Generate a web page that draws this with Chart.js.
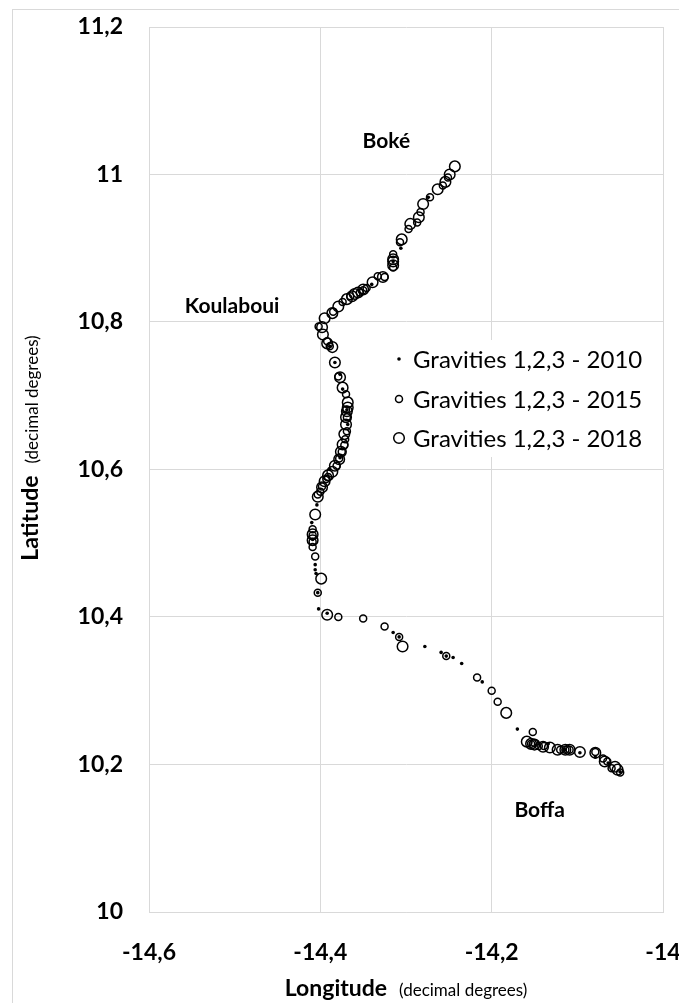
<!DOCTYPE html>
<html>
<head>
<meta charset="utf-8">
<script src="https://cdn.jsdelivr.net/npm/chart.js@4.4.0/dist/chart.umd.min.js"></script>
<style>
    html, body { margin: 0; padding: 0; background: #fff; overflow: hidden; }
    #frame { position: absolute; left: 12px; top: 9px; width: 760px; height: 1040px; border: 1px solid #d9d9d9; }
    #wrap { position: absolute; left: 0; top: 0; width: 720px; height: 1003px; }
</style>
</head>
<body>
<div id="frame"></div>
<div id="wrap"><canvas id="coastChart"></canvas></div>
<script>
// Series labels
const seriesNames = ['Gravities 1,2,3 - 2010', 'Gravities 1,2,3 - 2015', 'Gravities 1,2,3 - 2018'];

// 2010 points (longitude, latitude)
const lon2010 = [-14.274, -14.306, -14.315, -14.340, -14.389, -14.383, -14.377, -14.374, -14.369, -14.368,
                 -14.377, -14.389, -14.404, -14.410, -14.409, -14.406, -14.406, -14.405, -14.403, -14.402,
                 -14.392, -14.315, -14.308, -14.278, -14.259, -14.253, -14.245, -14.235, -14.211, -14.170,
                 -14.134, -14.114, -14.097, -14.079, -14.064, -14.050];
const lat2010 = [10.969, 10.900, 10.882, 10.851, 10.767, 10.745, 10.729, 10.709, 10.681, 10.661,
                 10.616, 10.600, 10.552, 10.528, 10.505, 10.471, 10.464, 10.459, 10.433, 10.411,
                 10.405, 10.379, 10.373, 10.360, 10.352, 10.347, 10.345, 10.337, 10.312, 10.248,
                 10.228, 10.220, 10.216, 10.210, 10.202, 10.190];

// 2015 points
const lon2015 = [-14.251, -14.257, -14.272, -14.283, -14.287, -14.297, -14.307, -14.315, -14.315, -14.325,
                 -14.333, -14.354, -14.365, -14.374, -14.385, -14.402, -14.392, -14.389, -14.379, -14.370,
                 -14.369, -14.369, -14.371, -14.375, -14.381, -14.391, -14.398, -14.400, -14.409, -14.409,
                 -14.406, -14.403, -14.379, -14.350, -14.325, -14.308, -14.253, -14.217, -14.200, -14.193,
                 -14.152, -14.154, -14.145, -14.120, -14.109, -14.079, -14.070, -14.060, -14.050,
                 -14.370, -14.372, -14.378, -14.393, -14.403, -14.409, -14.409, -14.350, -14.346,
                 -14.150, -14.139, -14.114, -14.065];
const lat2015 = [10.996, 10.985, 10.969, 10.949, 10.935, 10.926, 10.908, 10.892, 10.874, 10.861,
                 10.862, 10.840, 10.835, 10.827, 10.814, 10.794, 10.774, 10.767, 10.726, 10.702,
                 10.671, 10.652, 10.641, 10.624, 10.605, 10.590, 10.577, 10.570, 10.519, 10.502,
                 10.482, 10.433, 10.400, 10.398, 10.387, 10.373, 10.347, 10.318, 10.300, 10.285,
                 10.244, 10.228, 10.225, 10.220, 10.220, 10.217, 10.208, 10.195, 10.189,
                 10.681, 10.633, 10.615, 10.587, 10.566, 10.511, 10.495, 10.843, 10.846,
                 10.229, 10.225, 10.220, 10.204];

// 2018 points
const lon2018 = [-14.243, -14.249, -14.254, -14.263, -14.280, -14.285, -14.295, -14.305, -14.315, -14.315,
                 -14.327, -14.339, -14.350, -14.360, -14.369, -14.379, -14.386, -14.395, -14.398, -14.397,
                 -14.392, -14.386, -14.383, -14.377, -14.374, -14.368, -14.369, -14.370, -14.374, -14.378,
                 -14.386, -14.395, -14.403, -14.406, -14.409, -14.399, -14.392, -14.304, -14.183, -14.159,
                 -14.150, -14.140, -14.132, -14.114, -14.097, -14.079, -14.068, -14.053,
                 -14.368, -14.370, -14.372, -14.376, -14.383, -14.391, -14.398, -14.409, -14.315, -14.356,
                 -14.363, -14.154, -14.123, -14.109, -14.056];
const lat2018 = [11.011, 11.000, 10.990, 10.980, 10.960, 10.942, 10.933, 10.912, 10.885, 10.877,
                 10.861, 10.854, 10.844, 10.838, 10.831, 10.821, 10.812, 10.805, 10.793, 10.783,
                 10.771, 10.766, 10.745, 10.725, 10.711, 10.691, 10.679, 10.661, 10.634, 10.614,
                 10.597, 10.584, 10.563, 10.539, 10.512, 10.452, 10.403, 10.360, 10.270, 10.231,
                 10.227, 10.224, 10.223, 10.220, 10.217, 10.216, 10.204, 10.193,
                 10.684, 10.671, 10.648, 10.624, 10.605, 10.592, 10.576, 10.504, 10.882, 10.840,
                 10.835, 10.228, 10.220, 10.220, 10.197];

// Place names on the map
const placeNames = ['Boké', 'Koulaboui', 'Boffa'];
const placeLon = [-14.323, -14.503, -14.144];
const placeLat = [11.045, 10.821, 10.138];

// Axis ranges
const lonTicks = [-14.6, -14.4, -14.2, -14];
const latTicks = [10, 10.2, 10.4, 10.6, 10.8, 11, 11.2];

function toPoints(xs, ys) {
    return xs.map((x, i) => ({ x: x, y: ys[i] }));
}

function fmt(v) {
    return String(Math.round(v * 10) / 10).replace('.', ',');
}

const FONT = 'Lato, "Open Sans", sans-serif';
const GRID = '#d9d9d9';

// draws the legend box, place names and the two axis titles
const extrasPlugin = {
    id: 'extras',
    afterDraw(chart) {
        const ctx = chart.ctx;
        const area = chart.chartArea;
        const xs = chart.scales.x;
        const ys = chart.scales.y;
        ctx.save();

        // place names
        ctx.fillStyle = '#000';
        ctx.font = 'bold 21px ' + FONT;
        ctx.textAlign = 'center';
        ctx.textBaseline = 'middle';
        placeNames.forEach((name, i) => {
            ctx.fillText(name, xs.getPixelForValue(placeLon[i]), ys.getPixelForValue(placeLat[i]));
        });

        // legend
        const lx = area.left + 250;
        const rows = [area.top + 332, area.top + 372, area.top + 411];
        ctx.fillStyle = '#fff';
        ctx.fillRect(lx - 12, rows[0] - 19, 275, rows[2] - rows[0] + 38);
        ctx.font = '24px ' + FONT;
        ctx.textAlign = 'left';
        chart.data.datasets.forEach((ds, i) => {
            ctx.beginPath();
            ctx.arc(lx, rows[i], ds.pointRadius, 0, Math.PI * 2);
            if (i === 0) {
                ctx.fillStyle = '#000';
                ctx.fill();
            } else {
                ctx.lineWidth = ds.borderWidth;
                ctx.strokeStyle = '#000';
                ctx.stroke();
            }
            ctx.fillStyle = '#000';
            ctx.fillText(ds.label, lx + 14, rows[i] + 1);
        });

        // x axis title
        ctx.textBaseline = 'alphabetic';
        ctx.font = 'bold 23px ' + FONT;
        const w1 = ctx.measureText('Longitude').width;
        ctx.font = '17px ' + FONT;
        const w2 = ctx.measureText('(decimal degrees)').width;
        let start = (area.left + area.right) / 2 - (w1 + 12 + w2) / 2;
        ctx.font = 'bold 23px ' + FONT;
        ctx.fillText('Longitude', start, 996);
        ctx.font = '17px ' + FONT;
        ctx.fillText('(decimal degrees)', start + w1 + 12, 996);

        // y axis title
        ctx.translate(38, 448);
        ctx.rotate(-Math.PI / 2);
        ctx.font = 'bold 23px ' + FONT;
        const h1 = ctx.measureText('Latitude').width;
        ctx.font = '17px ' + FONT;
        const h2 = ctx.measureText('(decimal degrees)').width;
        start = -(h1 + 12 + h2) / 2;
        ctx.font = 'bold 23px ' + FONT;
        ctx.fillText('Latitude', start, 0);
        ctx.font = '17px ' + FONT;
        ctx.fillText('(decimal degrees)', start + h1 + 12, 0);

        ctx.restore();
    }
};

const ctx = document.getElementById('coastChart').getContext('2d');
const coastChart = new Chart(ctx, {
    type: 'scatter',
    data: {
        datasets: [{
            label: seriesNames[0],
            data: toPoints(lon2010, lat2010),
            pointRadius: 1.8,
            backgroundColor: '#000',
            borderColor: '#000',
            borderWidth: 0
        }, {
            label: seriesNames[1],
            data: toPoints(lon2015, lat2015),
            pointRadius: 3.5,
            backgroundColor: 'rgba(255,255,255,0)',
            borderColor: '#000',
            borderWidth: 1.5
        }, {
            label: seriesNames[2],
            data: toPoints(lon2018, lat2018),
            pointRadius: 5.3,
            backgroundColor: 'rgba(255,255,255,0)',
            borderColor: '#000',
            borderWidth: 1.5
        }]
    },
    options: {
        responsive: true,
        maintainAspectRatio: false,
        animation: false,
        layout: {
            padding: { top: 27, right: 57, left: 0, bottom: 0 }
        },
        plugins: {
            legend: { display: false },
            tooltip: { enabled: false }
        },
        scales: {
            x: {
                type: 'linear',
                min: lonTicks[0],
                max: lonTicks[lonTicks.length - 1],
                afterBuildTicks: s => { s.ticks = lonTicks.map(v => ({ value: v })); },
                afterFit: s => { s.height = 91; },
                ticks: {
                    callback: v => fmt(v),
                    color: '#000',
                    font: { family: FONT, size: 23, weight: 'bold' },
                    padding: 27,
                    maxRotation: 0
                },
                grid: { color: GRID, drawTicks: false },
                border: { color: GRID }
            },
            y: {
                min: latTicks[0],
                max: latTicks[latTicks.length - 1],
                afterBuildTicks: s => { s.ticks = latTicks.map(v => ({ value: v })); },
                afterFit: s => { s.width = 149; },
                ticks: {
                    callback: v => fmt(v),
                    color: '#000',
                    font: { family: FONT, size: 23, weight: 'bold' },
                    padding: 0
                },
                // invisible tick marks keep the labels away from the plot edge
                grid: { color: GRID, drawTicks: true, tickLength: 26, tickColor: 'rgba(0,0,0,0)' },
                border: { color: GRID }
            }
        }
    },
    plugins: [extrasPlugin]
});
</script>
</body>
</html>
